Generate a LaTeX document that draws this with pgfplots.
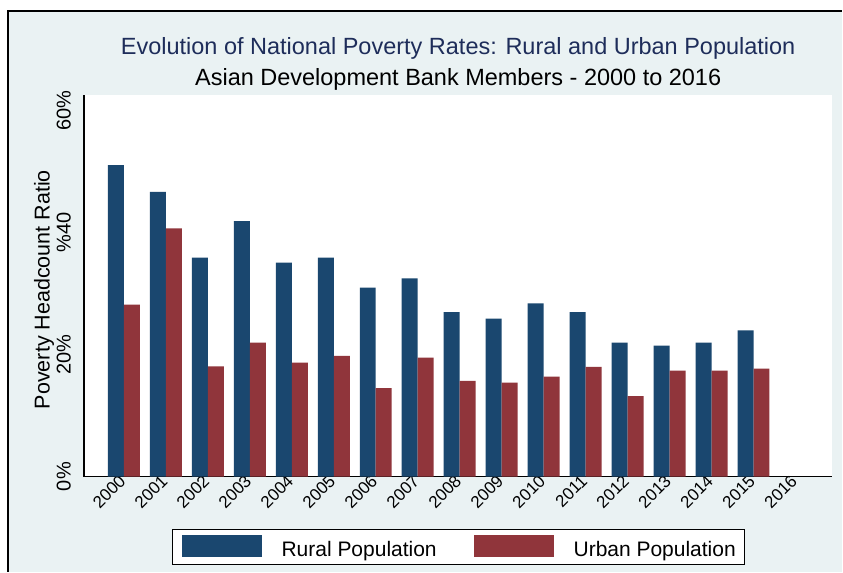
\documentclass[border=0pt]{standalone}
\usepackage{fontspec}
\setmainfont{Liberation Sans}
\usepackage{pgfplots}
\pgfplotsset{compat=1.18}
\definecolor{rural}{RGB}{26,71,111}
\definecolor{urban}{RGB}{144,53,59}
\definecolor{bgreg}{RGB}{234,242,243}
\definecolor{ttl}{RGB}{30,45,90}

\begin{document}
\begin{tikzpicture}[x=1pt,y=1pt]
% graph region
\fill[white] (0,0) rectangle (843,572);
\fill[bgreg] (8,0) rectangle (843,561);
\draw[black, line width=1.2pt] (8,0) -- (8,561) -- (843,561);
\node[anchor=base, text=ttl, font=\fontsize{23.5}{28}\selectfont] at (458.5,517)
  {Evolution of National Poverty Rates: Rural and Urban Population};
\node[anchor=base, font=\fontsize{23.5}{28}\selectfont] at (458.5,486)
  {Asian Development Bank Members - 2000 to 2016};
\begin{axis}[
  at={(84pt,95pt)}, anchor=south west,
  scale only axis, width=749pt, height=382pt,
  axis background/.style={fill=white},
  ybar=0pt, bar width=16pt,
  xmin=-0.952, xmax=16.88, ymin=0, ymax=62.6,
  axis x line*=bottom, axis y line*=left,
  axis line style={line width=1.3pt, -},
  major tick length=0pt,
  xtick={0,1,2,3,4,5,6,7,8,9,10,11,12,13,14,15,16},
  xticklabels={2000,2001,2002,2003,2004,2005,2006,2007,2008,2009,2010,2011,2012,2013,2014,2015,2016},
  ytick={0,20,40,60},
  yticklabels={0\%,20\%,\%40,60\%},
  xticklabel style={font=\fontsize{17}{20}\selectfont, rotate=45, anchor=east, inner sep=2pt},
  yticklabel style={font=\fontsize{20}{22}\selectfont, rotate=90, anchor=south, inner sep=0pt},
  yticklabel shift=13pt,
  ylabel={Poverty Headcount Ratio},
  ylabel style={at={(axis description cs:-0.0534,0.49)}, anchor=center,
    font=\fontsize{21.5}{24}\selectfont},
  legend columns=2,
  legend image code/.code={\fill[#1] (0pt,-7pt) rectangle (80pt,15pt);},
  legend style={at={(0.5007,-0.1361)}, anchor=north,
    draw=black, line width=1pt, fill=white,
    inner xsep=9pt, inner ysep=6pt,
    font=\fontsize{21}{24}\selectfont,
    nodes={inner sep=0pt},
    /tikz/every odd column/.append style={column sep=20pt},
    /tikz/every even column/.append style={column sep=37pt}},
]
\addplot[fill=rural, draw=none] coordinates {
  (0,51.1) (1,46.7) (2,35.9) (3,41.9) (4,35.1) (5,35.9) (6,31.0) (7,32.5)
  (8,27.0) (9,25.9) (10,28.4) (11,27.0) (12,22.0) (13,21.5) (14,22.0) (15,24.0)};
\addplot[fill=urban, draw=none] coordinates {
  (0,28.2) (1,40.7) (2,18.1) (3,22.0) (4,18.7) (5,19.8) (6,14.5) (7,19.5)
  (8,15.7) (9,15.4) (10,16.4) (11,18.0) (12,13.2) (13,17.4) (14,17.4) (15,17.7)};
\legend{Rural Population, Urban Population}
\end{axis}
\end{tikzpicture}
\end{document}
